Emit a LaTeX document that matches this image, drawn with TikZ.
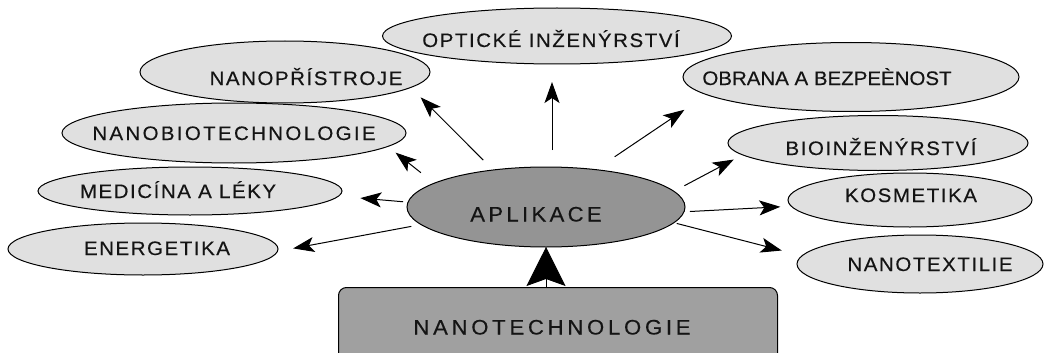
\documentclass[tikz,border=0pt]{standalone}
\usepackage{fontspec}
\setmainfont{Liberation Sans}
\newfontfamily\lblfont[LetterSpace=8,FakeStretch=1.05,FakeBold=0.3]{Liberation Sans}
\newfontfamily\mainlblfont[LetterSpace=16,FakeStretch=1.05,FakeBold=0.3]{Liberation Sans}
\usetikzlibrary{arrows.meta,shapes.geometric}
\definecolor{lightfill}{RGB}{224,224,224}
\definecolor{aplfill}{RGB}{148,148,148}
\definecolor{rectfill}{RGB}{160,160,160}
\definecolor{txt}{RGB}{20,20,20}
\tikzset{
  ell/.style={ellipse, draw=black, line width=1pt, fill=lightfill, inner sep=0pt, outer sep=0pt},
  mainell/.style={ell, fill=aplfill},
  rbox/.style={rectangle, rounded corners=8pt, draw=black, line width=1pt, fill=rectfill, inner sep=0pt},
  lbl/.style={anchor=base, inner sep=0pt, text=txt, font=\lblfont\fontsize{19.5pt}{19.5pt}\selectfont},
  mainlbl/.style={anchor=base, inner sep=0pt, text=txt, font=\mainlblfont\fontsize{21pt}{21pt}\selectfont},
  arr/.style={draw=black, line width=1pt, -{Stealth[length=21pt,width=15pt,inset=5pt]}},
  bigarr/.style={draw=black, line width=1pt, -{Stealth[length=39pt,width=39pt,inset=7pt]}}
}
\begin{document}
\begin{tikzpicture}[x=1pt,y=-1pt]
\path[use as bounding box] (0,0) rectangle (1044,353);
\clip (0,0) rectangle (1044,353);
\fill[white] (0,0) rectangle (1044,353);

% ellipses
\node[ell, minimum width=349pt, minimum height=56pt] (opt) at (557,36) {};
\node[ell, minimum width=290pt, minimum height=62pt] (nanop) at (285,72) {};
\node[ell, minimum width=344pt, minimum height=60pt] (nanobio) at (234,133) {};
\node[ell, minimum width=304pt, minimum height=48pt] (med) at (190,191) {};
\node[ell, minimum width=270pt, minimum height=52pt] (ener) at (143,249) {};
\node[ell, minimum width=336pt, minimum height=69pt] (obr) at (851,77) {};
\node[ell, minimum width=300pt, minimum height=55pt] (bio) at (878,143) {};
\node[ell, minimum width=244pt, minimum height=54pt] (kos) at (910,200) {};
\node[ell, minimum width=246pt, minimum height=58pt] (ntex) at (920,264) {};
\node[mainell, minimum width=278pt, minimum height=80pt] (apl) at (546,207) {};
\node[rbox, anchor=north west, minimum width=439pt, minimum height=80pt] (nt) at (338,287) {};

% labels
\node[lbl] (opt-t) at (551,47) {OPTICKÉ INŽENÝRSTVÍ};
\node[lbl] (nanop-t) at (306,85) {NANOPŘÍSTROJE};
\node[lbl] (nanobio-t) at (234,140) {\addfontfeature{LetterSpace=12}NANOBIOTECHNOLOGIE};
\node[lbl] (med-t) at (178,198) {MEDICÍNA A LÉKY};
\node[lbl] (ener-t) at (157,255) {ENERGETIKA};
\node[lbl] (obr-t) at (827,85) {\addfontfeature{LetterSpace=0}OBRANA A BEZPEÈNOST};
\node[lbl] (bio-t) at (881,155) {BIOINŽENÝRSTVÍ};
\node[lbl] (kos-t) at (911,202) {KOSMETIKA};
\node[lbl] (ntex-t) at (930,271) {NANOTEXTILIE};
\node[mainlbl] (apl-t) at (536,221.5) {APLIKACE};
\node[mainlbl] (nt-t) at (552,334.5) {\addfontfeature{LetterSpace=18}NANOTECHNOLOGIE};

% arrows
\draw[arr, shorten <=17pt, shorten >=18pt] ([xshift=6pt]apl.north) -- ([xshift=-5pt]opt.south);
\draw[arr, shorten <=14pt, shorten >=14pt] (apl.145) -- (nanop.-7);
\draw[arr, shorten <=17pt, shorten >=10pt] (apl.168) -- (nanobio.-5);
\draw[arr, shorten <=5pt, shorten >=22pt] (apl.178) -- (med.-2);
\draw[arr, shorten <=10pt, shorten >=16pt] (apl.188) -- (ener.-1);
\draw[arr, shorten <=23pt, shorten >=27pt] (apl.37) -- (obr.187);
\draw[arr, shorten <=12pt, shorten >=10pt] (apl.7) -- (bio.185);
\draw[arr, shorten <=6pt, shorten >=11pt] (apl.-2) -- (kos.183);
\draw[arr, shorten <=3pt, shorten >=21pt] (apl.-7) -- (ntex.176);
\draw[bigarr] (apl.south |- nt.north) -- (apl.south);
\end{tikzpicture}
\end{document}
